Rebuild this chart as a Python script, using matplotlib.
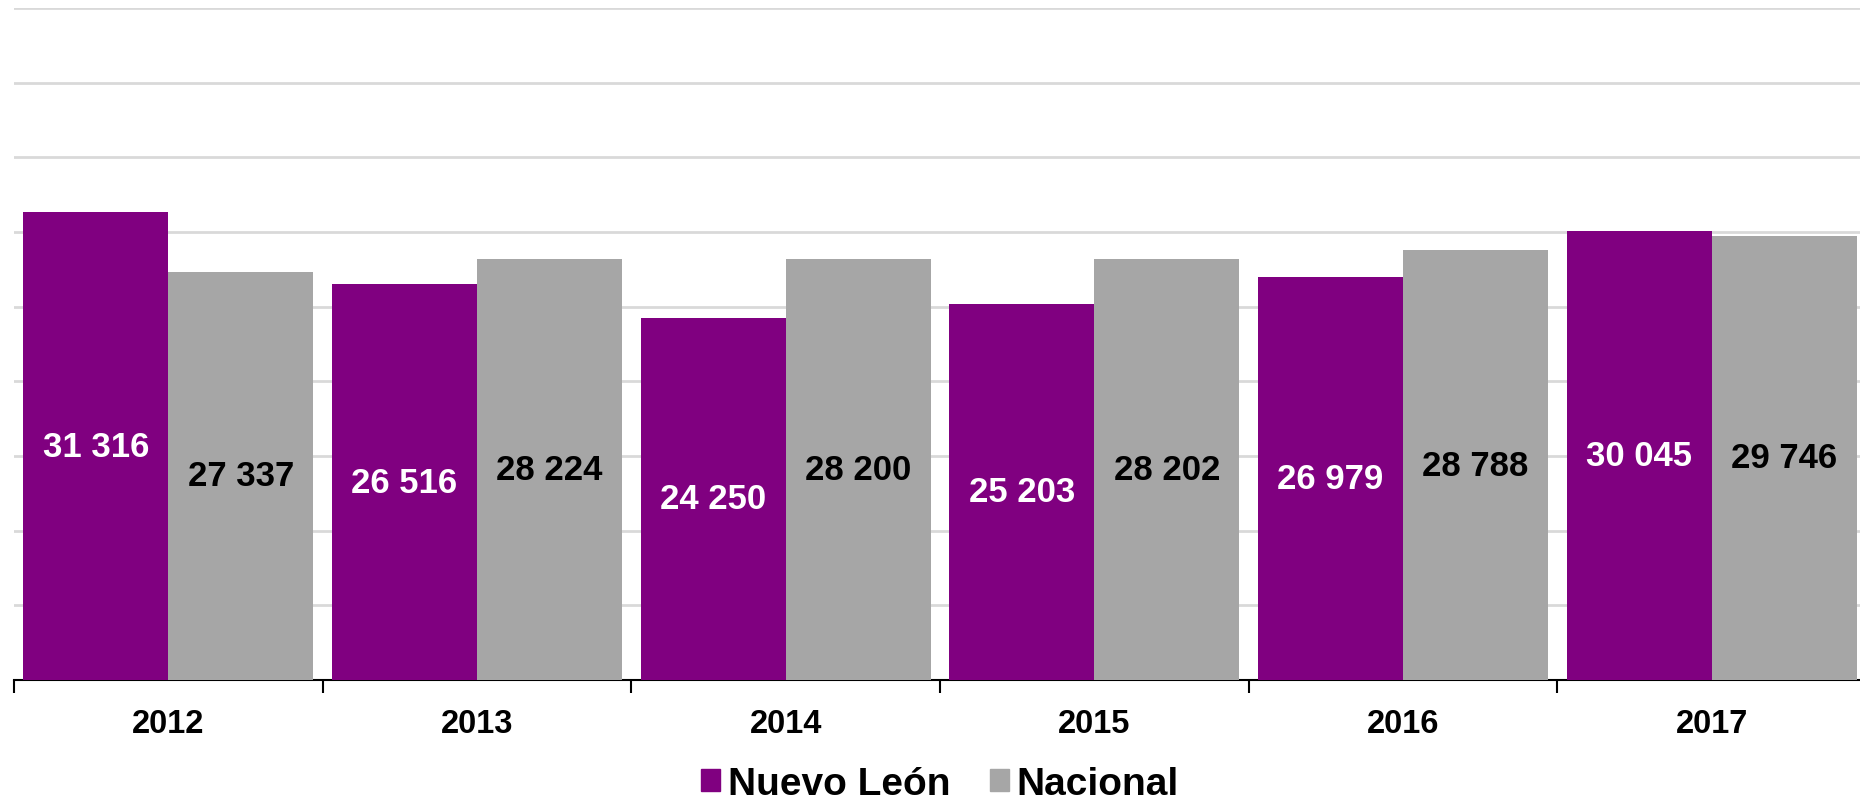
import matplotlib.pyplot as plt
from matplotlib.patches import Patch
import numpy as np

# data
years = ['2012', '2013', '2014', '2015', '2016', '2017']
nuevo_leon = [31316, 26516, 24250, 25203, 26979, 30045]
nacional = [27337, 28224, 28200, 28202, 28788, 29746]

purple = '#800080'
grey = '#A6A6A6'

def fmt(v):
    # thousands separated by a space
    return '{:,}'.format(v).replace(',', ' ')

plt.rcParams['font.family'] = ['Liberation Sans', 'DejaVu Sans']

fig = plt.figure(figsize=(18.6, 8.04), dpi=100)
ax = fig.add_axes([14/1860, (804-681)/804, 1852/1860, 672/804])

x = np.arange(len(years))
w = 0.47
b1 = ax.bar(x - w/2, nuevo_leon, w, color=purple, zorder=3)
b2 = ax.bar(x + w/2, nacional, w, color=grey, zorder=3)

for rect, v in zip(b1, nuevo_leon):
    ax.text(rect.get_x() + rect.get_width()/2, v/2, fmt(v), ha='center', va='center',
            color='white', fontsize=25, fontweight='bold', zorder=4)
for rect, v in zip(b2, nacional):
    ax.text(rect.get_x() + rect.get_width()/2, v/2, fmt(v), ha='center', va='center',
            color='black', fontsize=25, fontweight='bold', zorder=4)

ax.set_xlim(-0.5, 5.5)
ax.set_ylim(0, 45000)
ax.set_yticks(np.arange(5000, 45001, 5000))
ax.yaxis.grid(True, color='#d9d9d9', linewidth=2)
ax.tick_params(axis='y', left=False, labelleft=False)

# ticks between groups, labels centred under each group
ax.set_xticks(np.arange(-0.5, 6, 1))
ax.set_xticklabels([])
ax.set_xticks(x, minor=True)
ax.set_xticklabels(years, minor=True, fontsize=23.5, fontweight='bold')
ax.tick_params(axis='x', which='major', length=9, width=1.5, direction='out')
ax.tick_params(axis='x', which='minor', length=0, pad=20)

for s in ['top', 'right', 'left']:
    ax.spines[s].set_visible(False)
ax.spines['bottom'].set_linewidth(1.5)

handles = [Patch(color=purple, label='Nuevo León'), Patch(color=grey, label='Nacional')]
fig.legend(handles=handles, loc='center', bbox_to_anchor=(0.5054, 0.024), ncol=2,
           frameon=False, prop={'size': 28, 'weight': 'bold'},
           handlelength=0.5, handleheight=0.5, handletextpad=0.2, columnspacing=1.0,
           borderpad=0)

fig.savefig('out.png', dpi=100)
